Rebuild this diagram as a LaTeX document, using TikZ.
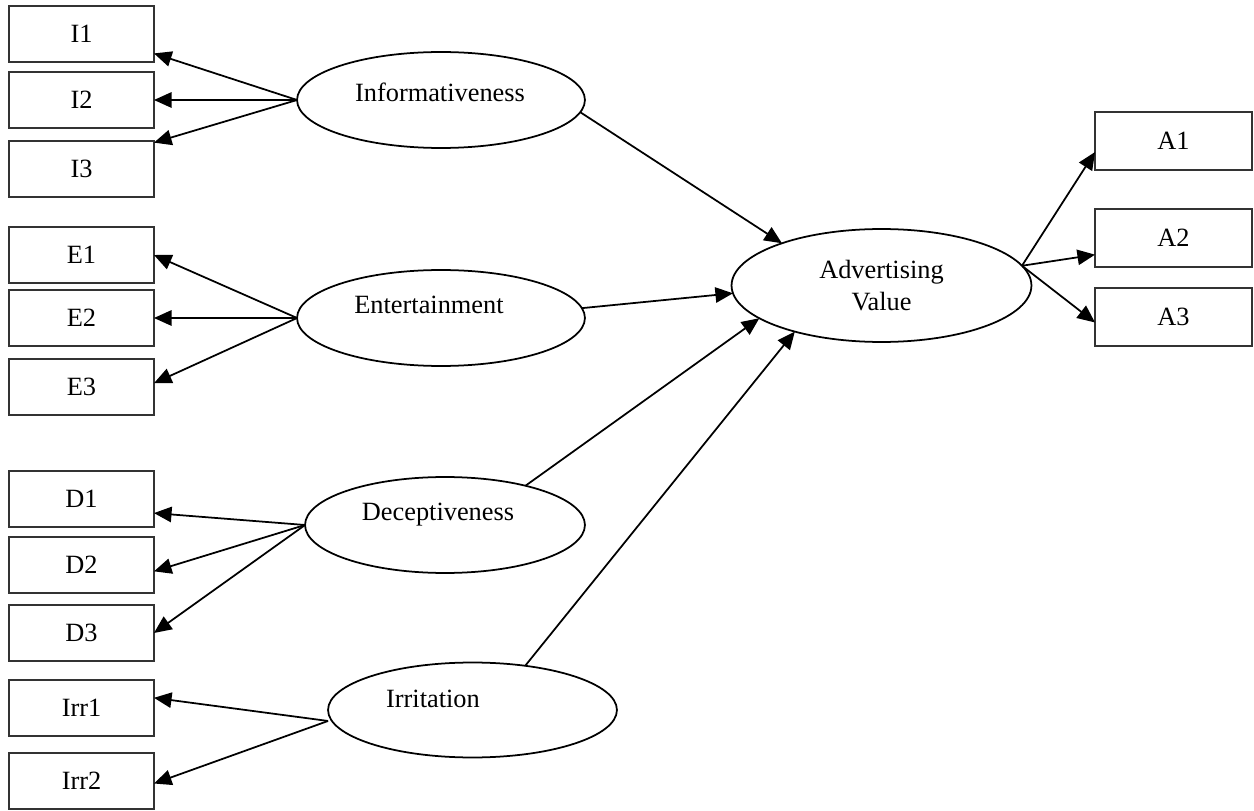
\documentclass[tikz,border=0pt]{standalone}
\usepackage{fontspec}
\setmainfont{Liberation Serif}
\usepackage{tikz}
\usetikzlibrary{shapes.geometric,arrows.meta}

\begin{document}
\begin{tikzpicture}[x=0.016cm,y=-0.016cm,line width=0.8pt,
        font=\fontsize{12}{14.5}\selectfont,
        >={Triangle[length=8pt,width=7pt]},
        itembox/.style={draw=black!80,minimum width=2.32cm,minimum height=0.896cm,inner sep=0pt,outer sep=0pt},
        abox/.style={itembox,minimum width=2.512cm,minimum height=0.928cm},
        latent/.style={draw,ellipse,inner sep=0pt,outer sep=0pt,minimum width=4.608cm,minimum height=1.536cm}]
        \useasboundingbox (0,0) rectangle (1254,811);

        % indicators
        \node[itembox] (i1) at (81.5,34) {I1};
        \node[itembox] (i2) at (81.5,100) {I2};
        \node[itembox] (i3) at (81.5,169) {I3};
        \node[itembox] (e1) at (81.5,255) {E1};
        \node[itembox] (e2) at (81.5,318) {E2};
        \node[itembox] (e3) at (81.5,387) {E3};
        \node[itembox] (d1) at (81.5,499) {D1};
        \node[itembox] (d2) at (81.5,565) {D2};
        \node[itembox] (d3) at (81.5,633) {D3};
        \node[itembox] (irr1) at (81.5,708) {Irr1};
        \node[itembox] (irr2) at (81.5,781) {Irr2};
        \node[abox] (a1) at (1173.5,141) {A1};
        \node[abox] (a2) at (1173.5,238) {A2};
        \node[abox] (a3) at (1173.5,317) {A3};

        % constructs
        \node[latent] (inf) at (441,100) {};
        \node[latent] (ent) at (441,318) {};
        \node[latent,minimum width=4.48cm] (dec) at (445,525) {};
        \node[latent,minimum width=4.624cm,minimum height=1.52cm] (irr) at (472.5,710) {};
        \node[latent,minimum width=4.8cm,minimum height=1.808cm,align=center] (av) at (881.5,285.5) {Advertising\\Value};
        \node (inftext) at (440,92) {Informativeness};
        \node (enttext) at (429,305) {Entertainment};
        \node (dectext) at (438,515) {Deceptiveness};
        \node (irrtext) at (433,699) {Irritation};

        \draw[->] (inf.west) -- (i1.-15);
        \draw[->] (inf.west) -- (i2.east);
        \draw[->] (inf.west) -- (i3.20);
        \draw[->] (ent.west) -- (e1.east);
        \draw[->] (ent.west) -- (e2.east);
        \draw[->] (ent.west) -- (e3.3);
        \draw[->] (dec.west) -- (d1.-11);
        \draw[->] (dec.west) -- (d2.-5);
        \draw[->] (dec.west) -- (d3.east);
        \draw[->] ([yshift=-5pt]irr.west) -- (irr1.8);
        \draw[->] ([yshift=-5pt]irr.west) -- (irr2.-2);

        \draw[->] (inf.-5) -- (av.157);
        \draw[->] (ent.4) -- (av.183);
        \draw[->] (dec.26) -- (av.195);
        \draw[->] (irr.40) -- (av.208);

        \draw[->] (av.8) -- (a1.188);
        \draw[->] (av.8) -- (a2.192);
        \draw[->] (av.8) -- (a3.184);
\end{tikzpicture}
\end{document}
